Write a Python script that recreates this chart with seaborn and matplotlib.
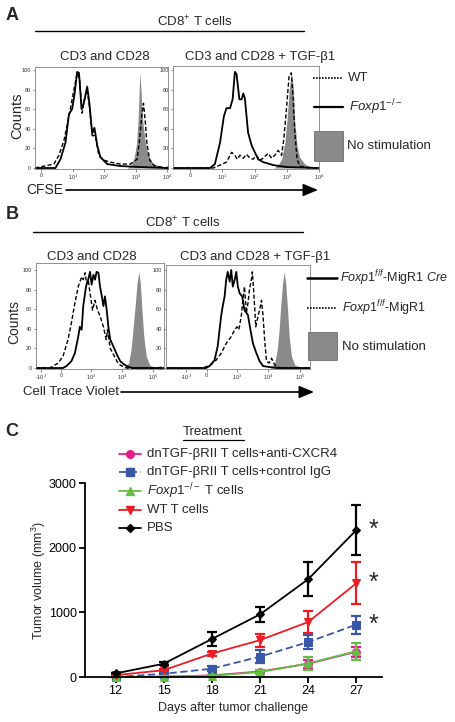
import numpy as np
import pandas as pd
import matplotlib
matplotlib.use("Agg")
import matplotlib.pyplot as plt
import seaborn as sns
from matplotlib.lines import Line2D
from matplotlib.patches import Rectangle

sns.set_theme(style="ticks")
plt.rcParams['font.family'] = ['Liberation Sans', 'DejaVu Sans']
plt.rcParams['mathtext.fontset'] = 'custom'
plt.rcParams['mathtext.rm'] = 'Liberation Sans'
plt.rcParams['mathtext.it'] = 'Liberation Sans:italic'
plt.rcParams['mathtext.bf'] = 'Liberation Sans:bold'

# ---------------- data: panel A (CFSE, x in decades) ----------------
a1_solid_x = [-0.2, 0.45, 0.61, 0.77, 0.88, 0.98, 1.06, 1.14, 1.20, 1.28, 1.35, 1.46, 1.53, 1.62, 1.69, 1.78, 1.88, 2.10, 2.52, 3.15, 4.03]
a1_solid_y = [0, 0, 9, 26, 55, 60, 76, 98, 97, 60, 66, 83, 66, 35, 41, 23, 11, 4, 2, 1, 0]
a1_dash_x = [-0.2, 0.40, 0.56, 0.72, 0.88, 1.04, 1.14, 1.22, 1.30, 1.39, 1.46, 1.54, 1.62, 1.72, 1.83, 1.99, 2.20, 2.52, 2.83, 3.05, 3.13, 3.20, 3.25, 3.30, 3.36, 3.45, 3.60, 4.03]
a1_dash_y = [0, 4, 13, 28, 53, 80, 97, 90, 56, 73, 80, 60, 33, 33, 13, 8, 6, 4, 4, 9, 30, 55, 66, 50, 25, 8, 2, 0]
a1_grey_x = [2.73, 2.85, 2.95, 3.03, 3.08, 3.12, 3.14, 3.17, 3.22, 3.30, 3.40, 3.55, 3.75, 4.03]
a1_grey_y = [0, 3, 10, 25, 50, 85, 97, 80, 50, 28, 13, 5, 2, 0]

a2_solid_x = [-0.53, 0.62, 0.77, 0.93, 1.05, 1.13, 1.24, 1.32, 1.39, 1.44, 1.53, 1.60, 1.65, 1.70, 1.80, 1.91, 2.01, 2.11, 2.27, 2.58, 2.99, 4.0]
a2_solid_y = [0, 0, 4, 26, 53, 61, 61, 70, 98, 96, 70, 70, 76, 71, 36, 23, 16, 9, 6, 3, 1, 0]
a2_dash_x = [-0.53, 0.72, 0.93, 1.13, 1.29, 1.39, 1.46, 1.55, 1.65, 1.75, 1.86, 1.96, 2.06, 2.16, 2.27, 2.42, 2.53, 2.63, 2.73, 2.84, 2.91, 2.99, 3.07, 3.14, 3.20, 3.25, 3.32, 3.40, 3.71, 4.0]
a2_dash_y = [0, 0, 3, 6, 16, 13, 9, 13, 10, 14, 10, 9, 13, 8, 10, 15, 10, 13, 18, 13, 30, 60, 93, 97, 70, 36, 9, 2, 0, 0]
a2_grey_x = [2.60, 2.73, 2.84, 2.94, 3.01, 3.07, 3.14, 3.20, 3.25, 3.32, 3.40, 3.56, 3.76, 4.0]
a2_grey_y = [0, 3, 9, 26, 50, 77, 98, 83, 46, 23, 11, 4, 1, 0]

a_ticks = [0, 1, 2, 3, 4]
a_ticklabels = ['0', '10$^1$', '10$^2$', '10$^3$', '10$^4$']

# ---------------- data: panel B (Cell Trace Violet, biexponential display units) ----------------
b1_solid_x = [1.23, 2.10, 2.21, 2.37, 2.48, 2.59, 2.64, 2.70, 2.75, 2.84, 2.91, 2.97, 3.02, 3.08, 3.13, 3.18, 3.24, 3.29, 3.35, 3.40, 3.45, 3.51, 3.56, 3.62, 3.72, 3.83, 3.94, 4.05, 4.16, 4.32, 5.35]
b1_solid_y = [0, 0, 2, 7, 15, 32, 42, 39, 63, 83, 90, 98, 85, 95, 90, 98, 97, 83, 73, 63, 73, 58, 42, 29, 22, 14, 7, 4, 2, 0, 0]
b1_dash_x = [1.23, 1.67, 1.78, 1.94, 2.10, 2.26, 2.37, 2.48, 2.59, 2.70, 2.75, 2.81, 2.86, 2.91, 2.97, 3.05, 3.13, 3.21, 3.29, 3.40, 3.49, 3.53, 3.62, 3.72, 3.83, 3.94, 4.16, 5.35]
b1_dash_y = [0, 0, 2, 5, 12, 29, 46, 66, 83, 93, 90, 97, 86, 90, 76, 59, 69, 59, 53, 42, 29, 39, 20, 14, 7, 3, 0, 0]
b1_grey_x = [4.0, 4.10, 4.21, 4.29, 4.35, 4.42, 4.48, 4.54, 4.59, 4.64, 4.70, 4.78, 4.89, 5.02, 5.24]
b1_grey_y = [0, 1, 5, 19, 39, 63, 86, 98, 86, 59, 32, 12, 3, 1, 0]

b2_solid_x = [0.75, 2.02, 2.13, 2.29, 2.39, 2.45, 2.50, 2.55, 2.61, 2.66, 2.71, 2.77, 2.82, 2.87, 2.93, 2.98, 3.03, 3.09, 3.17, 3.24, 3.35, 3.43, 3.51, 3.62, 3.72, 3.83, 4.04, 4.26, 5.32]
b2_solid_y = [0, 0, 2, 8, 22, 39, 53, 63, 73, 90, 98, 88, 100, 83, 90, 98, 83, 76, 73, 59, 54, 39, 25, 15, 7, 2, 1, 0, 0]
b2_dash_x = [0.75, 1.81, 2.13, 2.34, 2.50, 2.66, 2.82, 2.93, 3.00, 3.06, 3.14, 3.19, 3.24, 3.30, 3.35, 3.40, 3.46, 3.49, 3.53, 3.60, 3.67, 3.72, 3.78, 3.83, 3.88, 3.94, 4.02, 4.10, 4.17, 4.26, 4.47, 5.32]
b2_dash_y = [0, 0, 2, 8, 15, 25, 32, 39, 42, 39, 53, 69, 83, 56, 66, 80, 90, 98, 80, 42, 53, 59, 69, 53, 29, 7, 5, 10, 5, 1, 0, 0]
b2_grey_x = [4.04, 4.20, 4.28, 4.34, 4.39, 4.45, 4.50, 4.55, 4.61, 4.66, 4.73, 4.84, 5.0, 5.32]
b2_grey_y = [0, 5, 19, 39, 63, 86, 98, 86, 59, 32, 12, 3, 1, 0]

b_ticks = [1.4, 2.04, 3, 4, 5]
b_ticklabels = ['-10$^3$', '0', '10$^3$', '10$^4$', '10$^5$']

# ---------------- data: panel C (tumor volume) ----------------
days = [12, 15, 18, 21, 24, 27]
cxcr4_mean = [0, 5, 25, 85, 205, 390]
cxcr4_err = [0, 5, 10, 30, 60, 75]
igg_mean = [0, 50, 128, 315, 540, 810]
igg_err = [0, 10, 40, 105, 110, 140]
foxp1_mean = [0, 5, 20, 75, 210, 400]
foxp1_err = [0, 5, 10, 30, 95, 130]
wt_mean = [28, 105, 362, 570, 850, 1450]
wt_err = [0, 15, 30, 100, 165, 325]
pbs_mean = [55, 205, 587, 968, 1512, 2272]
pbs_err = [0, 20, 115, 115, 265, 390]

treatments = ['dnTGF-\u03b2RII T cells+anti-CXCR4',
              'dnTGF-\u03b2RII T cells+control IgG',
              r'$\mathit{Foxp1}^{-/-}$ T cells',
              'WT T cells',
              'PBS']

W, H = 456, 722


def fx(px):
    return px / W


def fy(py):
    return 1 - py / H


def box(x0, y0, x1, y1):
    return [fx(x0), fy(y1), (x1 - x0) / W, (y1 - y0) / H]


fig = plt.figure(figsize=(W / 100, H / 100), dpi=100)


def hist_panel(ax, gx, gy, dx, dy, sx, sy, xlim, ylim, ticks, labels, minor):
    ax.fill_between(gx, gy, color='#8a8a8a', lw=0)
    sns.lineplot(x=dx, y=dy, ax=ax, sort=False, estimator=None, color='black',
                 lw=1.0, linestyle=(0, (3, 1.6)))
    sns.lineplot(x=sx, y=sy, ax=ax, sort=False, estimator=None, color='black', lw=1.3)
    ax.set_xlim(*xlim)
    ax.set_ylim(*ylim)
    ax.set_xticks(ticks)
    ax.set_xticklabels(labels)
    ax.set_xticks(minor, minor=True)
    ax.set_yticks([0, 20, 40, 60, 80, 100])
    ax.set_xlabel('')
    ax.set_ylabel('')
    ax.tick_params(axis='both', which='major', labelsize=4, length=1.8, width=0.4,
                   pad=1.2, colors='#333333')
    ax.tick_params(axis='x', which='minor', length=1.0, width=0.3, colors='#333333')
    for sp in ax.spines.values():
        sp.set_color('#808080')
        sp.set_linewidth(0.6)


logs = np.log10(np.arange(2, 10))
a_minor = np.concatenate([d + logs for d in (1, 2, 3)])
b_minor = np.concatenate([d + logs for d in (3, 4)])

# panel A
axA1 = fig.add_axes(box(35, 67, 168, 169))
hist_panel(axA1, a1_grey_x, a1_grey_y, a1_dash_x, a1_dash_y, a1_solid_x, a1_solid_y,
           (-0.2, 4.03), (-1, 103), a_ticks, a_ticklabels, a_minor)
axA2 = fig.add_axes(box(173, 66, 319, 169))
hist_panel(axA2, a2_grey_x, a2_grey_y, a2_dash_x, a2_dash_y, a2_solid_x, a2_solid_y,
           (-0.53, 4.0), (-1, 104), a_ticks, a_ticklabels, a_minor)

# panel B
axB1 = fig.add_axes(box(36, 263, 164, 369))
hist_panel(axB1, b1_grey_x, b1_grey_y, b1_dash_x, b1_dash_y, b1_solid_x, b1_solid_y,
           (1.23, 5.35), (-1, 107), b_ticks, b_ticklabels, b_minor)
axB2 = fig.add_axes(box(166, 265, 310, 369))
hist_panel(axB2, b2_grey_x, b2_grey_y, b2_dash_x, b2_dash_y, b2_solid_x, b2_solid_y,
           (0.75, 5.32), (-1, 105), b_ticks, b_ticklabels, b_minor)

# text and decorations for A and B
fs = 9.5
fig.text(fx(12), fy(15), 'A', fontsize=13, fontweight='bold', ha='center', va='center')
fig.text(fx(195), fy(22), r'CD8$^{+}$ T cells', fontsize=fs, ha='center', va='center')
fig.add_artist(Line2D([fx(35), fx(304)], [fy(31), fy(31)], color='black', lw=1.0))
fig.text(fx(105), fy(57), 'CD3 and CD28', fontsize=fs, ha='center', va='center')
fig.text(fx(260), fy(57), 'CD3 and CD28 + TGF-\u03b21', fontsize=fs, ha='center', va='center')
fig.text(fx(17), fy(116), 'Counts', fontsize=10.5, rotation=90, ha='center', va='center')
fig.text(fx(26), fy(190), 'CFSE', fontsize=10, ha='left', va='center')
axA1.annotate('', xy=(fx(318), fy(190)), xytext=(fx(66), fy(190)),
              xycoords='figure fraction', textcoords='figure fraction', annotation_clip=False,
              arrowprops=dict(arrowstyle='-|>,head_length=0.6,head_width=0.25',
                              color='black', lw=1.2, mutation_scale=15, shrinkA=0, shrinkB=0))

fig.add_artist(Line2D([fx(313), fx(343)], [fy(78), fy(78)], color='black', lw=1.2,
                      linestyle=(0, (1, 0.8))))
fig.text(fx(348), fy(78), 'WT', fontsize=fs, ha='left', va='center')
fig.add_artist(Line2D([fx(314), fx(343)], [fy(107), fy(107)], color='black', lw=1.6))
fig.text(fx(349), fy(107), r'$\mathit{Foxp1}^{-/-}$', fontsize=fs, ha='left', va='center')
fig.add_artist(Rectangle((fx(314), fy(161)), 29 / W, 30 / H, transform=fig.transFigure,
                         facecolor='#8a8a8a', edgecolor='#6e6e6e', lw=0.6))
fig.text(fx(347), fy(146), 'No stimulation', fontsize=fs, ha='left', va='center')

fig.text(fx(12), fy(215), 'B', fontsize=13, fontweight='bold', ha='center', va='center')
fig.text(fx(183), fy(223), r'CD8$^{+}$ T cells', fontsize=fs, ha='center', va='center')
fig.add_artist(Line2D([fx(33), fx(303)], [fy(232), fy(232)], color='black', lw=1.0))
fig.text(fx(92), fy(257), 'CD3 and CD28', fontsize=fs, ha='center', va='center')
fig.text(fx(255), fy(257), 'CD3 and CD28 + TGF-\u03b21', fontsize=fs, ha='center', va='center')
fig.text(fx(14), fy(322), 'Counts', fontsize=10, rotation=90, ha='center', va='center')
fig.text(fx(23), fy(392), 'Cell Trace Violet', fontsize=fs, ha='left', va='center')
axB1.annotate('', xy=(fx(314), fy(392)), xytext=(fx(121), fy(392)),
              xycoords='figure fraction', textcoords='figure fraction', annotation_clip=False,
              arrowprops=dict(arrowstyle='-|>,head_length=0.6,head_width=0.25',
                              color='black', lw=1.2, mutation_scale=15, shrinkA=0, shrinkB=0))

fig.add_artist(Line2D([fx(307), fx(337)], [fy(278), fy(278)], color='black', lw=1.8))
fig.text(fx(340), fy(278), r'$\mathit{Foxp1}^{f/f}$-MigR1 $\mathit{Cre}$', fontsize=9,
         ha='left', va='center')
fig.add_artist(Line2D([fx(307), fx(337)], [fy(308), fy(308)], color='black', lw=1.2,
                      linestyle=(0, (1, 0.8))))
fig.text(fx(342), fy(308), r'$\mathit{Foxp1}^{f/f}$-MigR1', fontsize=9, ha='left', va='center')
fig.add_artist(Rectangle((fx(308), fy(360)), 29 / W, 28 / H, transform=fig.transFigure,
                         facecolor='#8a8a8a', edgecolor='#6e6e6e', lw=0.6))
fig.text(fx(342), fy(347), 'No stimulation', fontsize=fs, ha='left', va='center')

# panel C
fig.text(fx(12), fy(432), 'C', fontsize=13, fontweight='bold', ha='center', va='center')
axC = fig.add_axes(box(85, 483, 382, 677))
series = [
    (cxcr4_mean, cxcr4_err, '#e8198b', 'o', '-'),
    (igg_mean, igg_err, '#3a56a8', 's', (0, (4, 2))),
    (foxp1_mean, foxp1_err, '#67bd45', '^', '-'),
    (wt_mean, wt_err, '#ec1c24', 'v', '-'),
    (pbs_mean, pbs_err, 'black', 'D', '-'),
]
legend_rows = [454, 472, 491, 510, 528]
for name, (mean, err, color, marker, ls), row in zip(treatments, series, legend_rows):
    df = pd.DataFrame({'day': days, 'volume': mean})
    ms = 5.5 if marker != 'D' else 4.5
    sns.lineplot(data=df, x='day', y='volume', ax=axC, color=color, marker=marker,
                 markersize=ms, markeredgecolor=color,
                 linestyle=ls, lw=1.3, estimator=None, clip_on=False)
    axC.errorbar(days, mean, yerr=err, fmt='none', ecolor=color, elinewidth=1.6,
                 capsize=3.5, capthick=1.6, clip_on=False)
    # legend key and label
    fig.add_artist(Line2D([fx(119), fx(130), fx(141)], [fy(row)] * 3, color=color,
                          marker=marker, markevery=[1], linestyle=ls, lw=1.3,
                          markersize=ms, markeredgecolor=color))
    fig.text(fx(147), fy(row), name, fontsize=fs, ha='left', va='center')

axC.set_xlim(10.1, 28.6)
axC.set_ylim(0, 3000)
axC.set_xticks(days)
axC.set_yticks([0, 1000, 2000, 3000])
sns.despine(ax=axC)
for sp in ('left', 'bottom'):
    axC.spines[sp].set_linewidth(1.3)
    axC.spines[sp].set_color('black')
axC.tick_params(axis='both', labelsize=9, length=4, width=1.3, pad=2, colors='black')
axC.set_xlabel('Days after tumor challenge', fontsize=9, labelpad=3)
axC.set_ylabel('Tumor volume (mm$^3$)', fontsize=9, labelpad=0.5)

for v in (pbs_mean[-1], wt_mean[-1], igg_mean[-1]):
    axC.text(28.1, v, '*', fontsize=18, ha='center', va='center', clip_on=False)

fig.text(fx(213), fy(432), 'Treatment', fontsize=fs, ha='center', va='center')
fig.add_artist(Line2D([fx(183), fx(244)], [fy(440), fy(440)], color='black', lw=0.9))

fig.savefig('out.png', dpi=100)
